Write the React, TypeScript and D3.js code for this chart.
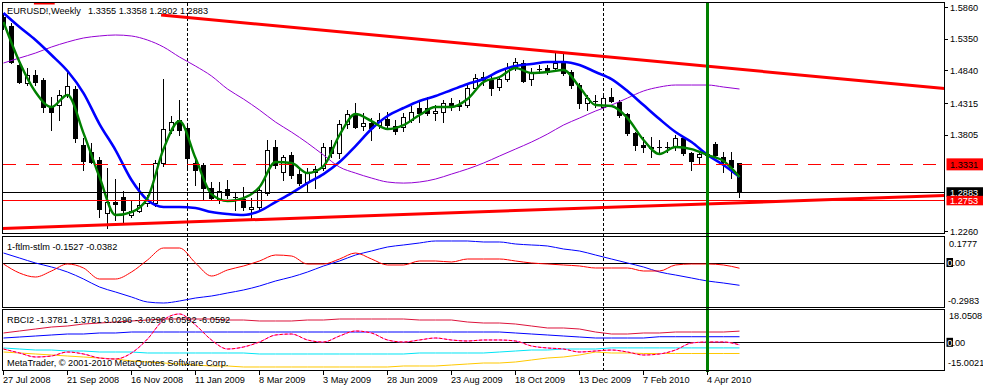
import React from "react";
import * as d3 from "d3";

// ---------- DATA ----------
const DATE_LABELS = ["27 Jul 2008", "21 Sep 2008", "16 Nov 2008", "11 Jan 2009", "8 Mar 2009", "3 May 2009", "28 Jun 2009", "23 Aug 2009", "18 Oct 2009", "13 Dec 2009", "7 Feb 2010", "4 Apr 2010"];
const DATE_LABEL_BARS = [0, 8, 16, 24, 32, 40, 48, 56, 64, 72, 80, 88];

const OPEN = [1.5700, 1.5560, 1.4928, 1.4638, 1.4767, 1.4686, 1.4252, 1.4284, 1.4445, 1.4542,
  1.3641, 1.3529, 1.3400, 1.2548, 1.2725, 1.2805, 1.2516, 1.2580, 1.2709, 1.2709,
  1.3352, 1.3883, 1.4043, 1.3915, 1.3352, 1.3320, 1.2950, 1.2757, 1.2934, 1.2810,
  1.2773, 1.2613, 1.2645, 1.2870, 1.3609, 1.3207, 1.3481, 1.3175, 1.3047, 1.3207,
  1.3272, 1.3609, 1.3513, 1.3979, 1.4124, 1.3947, 1.3995, 1.3963, 1.4059, 1.3947,
  1.3931, 1.4043, 1.4236, 1.4236, 1.4156, 1.4172, 1.4317, 1.4262, 1.4284, 1.4558,
  1.4686, 1.4686, 1.4574, 1.4702, 1.4879, 1.4960, 1.4702, 1.4863, 1.4879, 1.4879,
  1.4960, 1.4815, 1.4606, 1.4317, 1.4349, 1.4252, 1.4413, 1.4333, 1.4140, 1.3834,
  1.3641, 1.3609, 1.3605, 1.3612, 1.3609, 1.3754, 1.3513, 1.3448, 1.3497, 1.3657,
  1.3448, 1.3400, 1.3355];
const HIGH = [1.5760, 1.5603, 1.5008, 1.4879, 1.4847, 1.4719, 1.4413, 1.4526, 1.4847, 1.4590,
  1.3754, 1.3673, 1.3448, 1.3272, 1.3095, 1.2902, 1.2757, 1.3030, 1.2838, 1.3400,
  1.4702, 1.4108, 1.4365, 1.3963, 1.3448, 1.3352, 1.3047, 1.3047, 1.3079, 1.2886,
  1.2966, 1.2789, 1.2966, 1.3722, 1.3722, 1.3481, 1.3529, 1.3288, 1.3272, 1.3304,
  1.3673, 1.3722, 1.4043, 1.4204, 1.4317, 1.4156, 1.4076, 1.4156, 1.4172, 1.4043,
  1.4156, 1.4268, 1.4365, 1.4413, 1.4284, 1.4365, 1.4397, 1.4365, 1.4606, 1.4783,
  1.4815, 1.4767, 1.4735, 1.4960, 1.5040, 1.5008, 1.4879, 1.4928, 1.4928, 1.5120,
  1.5120, 1.4847, 1.4638, 1.4445, 1.4445, 1.4477, 1.4558, 1.4365, 1.4156, 1.3850,
  1.3770, 1.3770, 1.3722, 1.3690, 1.3802, 1.3786, 1.3529, 1.3529, 1.3593, 1.3690,
  1.3529, 1.3529, 1.3358];
const LOW = [1.5510, 1.4960, 1.4638, 1.4606, 1.4606, 1.4172, 1.3883, 1.4043, 1.4413, 1.3690,
  1.3239, 1.3352, 1.2484, 1.2307, 1.2436, 1.2387, 1.2484, 1.2564, 1.2661, 1.2661,
  1.3300, 1.3834, 1.3802, 1.3239, 1.2998, 1.2757, 1.2757, 1.2709, 1.2789, 1.2596,
  1.2596, 1.2452, 1.2613, 1.2838, 1.3272, 1.3079, 1.3111, 1.2998, 1.2886, 1.2950,
  1.3239, 1.3448, 1.3432, 1.3915, 1.3915, 1.3883, 1.3722, 1.3915, 1.3915, 1.3818,
  1.3866, 1.4011, 1.4011, 1.4124, 1.4043, 1.4011, 1.4204, 1.4204, 1.4252, 1.4542,
  1.4606, 1.4445, 1.4526, 1.4670, 1.4847, 1.4654, 1.4606, 1.4799, 1.4783, 1.4847,
  1.4767, 1.4558, 1.4236, 1.4204, 1.4252, 1.4204, 1.4333, 1.4092, 1.3802, 1.3561,
  1.3529, 1.3448, 1.3513, 1.3529, 1.3561, 1.3481, 1.3239, 1.3352, 1.3272, 1.3464,
  1.3207, 1.3111, 1.2802];
const CLOSE = [1.5590, 1.4976, 1.4654, 1.4767, 1.4654, 1.4252, 1.4172, 1.4445, 1.4590, 1.3754,
  1.3384, 1.3368, 1.2613, 1.2725, 1.2700, 1.2596, 1.2580, 1.2677, 1.2757, 1.3352,
  1.3899, 1.4011, 1.3883, 1.3432, 1.3239, 1.2950, 1.2789, 1.2902, 1.2838, 1.2805,
  1.2645, 1.2645, 1.2918, 1.3561, 1.3320, 1.3448, 1.3159, 1.3030, 1.3207, 1.3256,
  1.3609, 1.3513, 1.3979, 1.4140, 1.3931, 1.3995, 1.3915, 1.4043, 1.3963, 1.3866,
  1.4092, 1.4172, 1.4156, 1.4156, 1.4188, 1.4317, 1.4284, 1.4284, 1.4558, 1.4719,
  1.4735, 1.4558, 1.4702, 1.4879, 1.4976, 1.4670, 1.4815, 1.4870, 1.4815, 1.4960,
  1.4799, 1.4606, 1.4317, 1.4397, 1.4355, 1.4397, 1.4349, 1.4124, 1.3834, 1.3641,
  1.3609, 1.3593, 1.3612, 1.3605, 1.3754, 1.3513, 1.3384, 1.3497, 1.3480, 1.3481,
  1.3368, 1.3290, 1.2883];

// indicator values sampled on every second weekly bar (0, 2, 4, ... 92)
const MA_BLUE = [1.5764, 1.5538, 1.5329, 1.5088, 1.4831, 1.4477, 1.3979, 1.3561, 1.3079, 1.2757,
  1.2645, 1.2645, 1.2629, 1.2564, 1.2532, 1.2516, 1.2580, 1.2725, 1.2870, 1.3030,
  1.3175, 1.3368, 1.3625, 1.3899, 1.4108, 1.4236, 1.4349, 1.4429, 1.4526, 1.4622,
  1.4702, 1.4831, 1.4911, 1.4944, 1.4976, 1.4976, 1.4928, 1.4815, 1.4702, 1.4510,
  1.4284, 1.4059, 1.3850, 1.3690, 1.3481, 1.3320, 1.3127];
const MA_GREEN = [1.5619, 1.4976, 1.4493, 1.4252, 1.4445, 1.3834, 1.3127, 1.2516, 1.2564, 1.2789,
  1.3577, 1.4027, 1.3432, 1.2854, 1.2741, 1.2789, 1.2966, 1.3368, 1.3352, 1.3191,
  1.3304, 1.3802, 1.4140, 1.4027, 1.3899, 1.3963, 1.4124, 1.4252, 1.4252, 1.4381,
  1.4654, 1.4735, 1.4879, 1.4799, 1.4815, 1.4847, 1.4574, 1.4284, 1.4268, 1.4075,
  1.3722, 1.3497, 1.3609, 1.3577, 1.3481, 1.3384, 1.3127];
const MA_PURPLE = [1.4960, 1.5040, 1.5120, 1.5217, 1.5297, 1.5362, 1.5394, 1.5410, 1.5394, 1.5329,
  1.5217, 1.5056, 1.4911, 1.4751, 1.4542, 1.4381, 1.4204, 1.4011, 1.3850, 1.3674,
  1.3481, 1.3288, 1.3191, 1.3111, 1.3047, 1.3030, 1.3047, 1.3095, 1.3175, 1.3256,
  1.3352, 1.3465, 1.3577, 1.3690, 1.3818, 1.3963, 1.4075, 1.4188, 1.4284, 1.4397,
  1.4510, 1.4574, 1.4606, 1.4606, 1.4606, 1.4574, 1.4542];

const FTLM_STLM_BLUE = [0.0637, 0.0302, -0.0033, -0.0301, -0.0637, -0.1106, -0.1642, -0.1977, -0.2313, -0.2648,
  -0.2715, -0.2581, -0.2380, -0.2246, -0.2044, -0.1843, -0.1575, -0.1240, -0.0972, -0.0637,
  -0.0234, 0.0101, 0.0503, 0.0771, 0.1040, 0.1174, 0.1308, 0.1442, 0.1442, 0.1442,
  0.1375, 0.1375, 0.1241, 0.1174, 0.1107, 0.0905, 0.0771, 0.0503, 0.0235, -0.0033,
  -0.0301, -0.0637, -0.0838, -0.1039, -0.1240, -0.1374, -0.1527];
const FTLM_STLM_RED = [-0.0100, -0.0704, -0.0972, -0.0569, -0.0100, -0.0368, -0.1106, -0.1106, -0.0637, 0.0168,
  0.0972, 0.0972, -0.0033, -0.0905, -0.0502, -0.0234, 0.0101, 0.0503, 0.0436, -0.0100,
  -0.0100, 0.0235, 0.0637, 0.0235, -0.0167, -0.0167, 0.0101, 0.0101, 0.0034, 0.0235,
  0.0235, 0.0235, 0.0101, -0.0033, -0.0100, -0.0167, -0.0234, -0.0368, -0.0368, -0.0368,
  -0.0569, -0.0569, -0.0167, -0.0100, -0.0100, -0.0167, -0.0382];

const RBCI = [-3.623, -5.790, -7.958, -7.416, -5.249, -6.332, -8.500, -9.041, -5.790, 1.795,
  12.090, 15.342, 9.381, 1.254, -3.623, -2.539, 0.170, 3.963, 4.504, 1.254,
  0.170, 3.421, 6.130, 5.047, 1.254, 0.170, 1.254, 2.337, 1.254, 0.712,
  1.254, 1.254, 0.712, -1.997, -3.081, -3.623, -5.249, -4.707, -4.165, -5.249,
  -6.874, -6.332, -4.165, -0.372, 0.170, 0.170, -1.3781];
const RBCI_UP2 = [5.047, 6.130, 7.214, 8.297, 8.839, 9.923, 10.465, 11.007, 11.549, 12.090,
  12.632, 12.632, 12.632, 12.632, 12.090, 12.090, 11.549, 11.549, 11.549, 12.090,
  12.090, 12.632, 12.632, 12.632, 12.632, 12.632, 12.090, 12.090, 12.090, 11.007,
  10.465, 10.465, 9.923, 8.839, 7.756, 7.756, 7.214, 5.588, 4.504, 4.504,
  5.047, 5.047, 5.588, 5.588, 5.588, 5.588, 6.0592];
const RBCI_UP1 = [2.337, 2.879, 3.421, 3.963, 4.504, 4.504, 5.047, 5.047, 5.588, 5.588,
  5.588, 5.588, 5.588, 5.588, 5.588, 5.588, 5.588, 5.588, 5.588, 5.588,
  5.588, 5.588, 5.588, 5.588, 5.588, 5.588, 5.588, 5.588, 5.588, 5.588,
  5.588, 5.588, 5.047, 4.504, 3.963, 3.421, 2.879, 2.337, 2.337, 2.337,
  2.337, 3.030, 3.030, 3.030, 3.030, 3.030, 3.0296];
const RBCI_DN1 = [-3.081, -3.623, -4.165, -4.165, -4.707, -4.707, -5.249, -5.249, -5.249, -5.790,
  -5.790, -5.790, -5.790, -5.790, -5.790, -5.790, -6.332, -6.332, -6.332, -6.332,
  -6.332, -6.332, -6.332, -6.332, -6.332, -6.332, -5.790, -5.790, -5.790, -5.790,
  -5.790, -5.249, -4.707, -4.165, -4.165, -3.623, -3.623, -3.623, -3.030, -3.030,
  -3.030, -3.030, -3.030, -3.030, -3.030, -3.030, -3.0296];
const RBCI_DN2 = [-5.249, -5.790, -6.332, -6.874, -7.416, -7.958, -8.500, -9.041, -10.125, -10.667,
  -11.209, -11.751, -12.293, -12.834, -12.834, -13.376, -13.376, -13.376, -13.376, -13.376,
  -13.376, -13.376, -13.376, -13.376, -13.376, -12.834, -12.834, -12.834, -12.293, -11.751,
  -11.209, -11.209, -10.667, -9.583, -8.500, -7.958, -6.874, -5.249, -5.790, -5.790,
  -6.059, -6.059, -6.059, -6.059, -6.059, -6.059, -6.0592];

const PRICE_TICKS = [1.5860, 1.5350, 1.4840, 1.4315, 1.3805, 1.2260];
const HLINE_DASHED = 1.3331;
const HLINE_BID = 1.2883;
const HLINE_RED = 1.2753;
const TREND_UPPER = [{ bar: 19.7, price: 1.5731 }, { bar: 70, price: 1.5124 }];
const TREND_LOWER = [{ bar: 0, price: 1.2302 }, { bar: 92, price: 1.2714 }];
const TREND_TOP_SEGMENT = [{ bar: 3.8, price: 1.5924 }, { bar: 6.4, price: 1.5924 }];
const PERIOD_SEPARATOR_BARS = [23, 75];
const VLINE_BAR = 88;
const IND1_TICKS = [0.1777, -0.2983];
const IND2_TICKS = [18.0508, -15.0021];

const FONT = "'Liberation Sans', Arial, sans-serif";
const FS = 9.2;

export default function App() {
  const W = 983, H = 387;
  const L = 2.5, R = 944.5;
  const MAIN_T = 2.5, MAIN_B = 233.5;
  const I1_T = 236.5, I1_B = 307.5;
  const I2_T = 309.5, I2_B = 370.5;

  const xs = d3.scaleLinear().domain([0, 92]).range([3.5, 739.5]);
  const yM = d3.scaleLinear().domain([1.2260, 1.5860]).range([231, 7]);
  const y1 = d3.scaleLinear().domain([-0.2983, 0.1777]).range([307, 236]);
  const y2 = d3.scaleLinear().domain([-15.0021, 18.0508]).range([370, 309]);
  const evenBars = d3.range(0, 93, 2);

  const mkLine = (ys: any, vals: number[], curve: any = d3.curveMonotoneX) =>
    d3.line<number>().x((_, i) => xs(evenBars[i])).y((v) => ys(v)).curve(curve)(vals) || "";

  const trendY = (pts: { bar: number; price: number }[], bar: number) =>
    pts[0].price + ((bar - pts[0].bar) * (pts[1].price - pts[0].price)) / (pts[1].bar - pts[0].bar);
  const rightBar = xs.invert(R);
  const leftBar = xs.invert(L);

  const crisp = (v: number) => Math.round(v) + 0.5;

  const candles = OPEN.map((o, i) => {
    const c = CLOSE[i];
    const cx = xs(i);
    const yo = Math.round(yM(o));
    const yc = Math.round(yM(c));
    const top = Math.min(yo, yc);
    const bot = Math.max(yo, yc);
    const bull = c >= o;
    let body;
    if (bot - top < 1) {
      body = <line x1={cx - 2.5} x2={cx + 2.5} y1={top + 0.5} y2={top + 0.5} stroke="#000" />;
    } else if (bull) {
      body = <rect x={cx - 2} y={top + 0.5} width={4} height={bot - top} fill="#fff" stroke="#000" />;
    } else {
      body = <rect x={cx - 2.5} y={top} width={5} height={bot - top + 1} fill="#000" />;
    }
    return (
      <g key={i}>
        <line x1={cx} x2={cx} y1={Math.round(yM(HIGH[i]))} y2={Math.round(yM(LOW[i])) + 1} stroke="#000" />
        {body}
      </g>
    );
  });

  const f4 = (v: number) => v.toFixed(4);
  const last = (a: number[]) => a[a.length - 1];
  const n = OPEN.length - 1;

  const zeroLabel = (yc: number, key: string) => (
    <g key={key}>
      <rect x={946.5} y={yc - 4.5} width={6.5} height={9} fill="#000" />
      <text x={947.3} y={yc + 3.3} fill="#fff">0</text>
      <text x={952.4} y={yc + 3.3} fill="#000">.00</text>
    </g>
  );

  return (
    <div style={{ position: "absolute", left: 0, top: 0, width: W, height: H, background: "#fff" }}>
      <svg width={W} height={H} style={{ display: "block", fontFamily: FONT, fontSize: FS }}>
        <defs>
          <clipPath id="clipMain"><rect x={L} y={MAIN_T} width={R - L} height={MAIN_B - MAIN_T} /></clipPath>
          <clipPath id="clipI1"><rect x={L} y={I1_T} width={R - L} height={I1_B - I1_T} /></clipPath>
          <clipPath id="clipI2"><rect x={L} y={I2_T} width={R - L} height={I2_B - I2_T} /></clipPath>
        </defs>
        <rect x={0} y={0} width={W} height={H} fill="#fff" />

        {/* period separators */}
        {PERIOD_SEPARATOR_BARS.map((b) => (
          <line key={b} x1={xs(b)} x2={xs(b)} y1={MAIN_T} y2={I2_B} stroke="#000" strokeDasharray="3,2" shapeRendering="crispEdges" />
        ))}

        {/* MAIN PANEL */}
        <g clipPath="url(#clipMain)">
          <g shapeRendering="crispEdges">{candles}</g>
          <path d={mkLine(yM, MA_PURPLE)} fill="none" stroke="#9400d3" strokeWidth={1} />
          <path d={mkLine(yM, MA_BLUE)} fill="none" stroke="#0000ff" strokeWidth={2.6} />
          <path d={mkLine(yM, MA_GREEN)} fill="none" stroke="#008000" strokeWidth={2.4} />
          {/* objects */}
          <line x1={L} x2={R} y1={crisp(yM(HLINE_DASHED))} y2={crisp(yM(HLINE_DASHED))} stroke="#ff0000" strokeDasharray="13,10" shapeRendering="crispEdges" />
          <line x1={L} x2={R} y1={crisp(yM(HLINE_BID))} y2={crisp(yM(HLINE_BID))} stroke="#000" shapeRendering="crispEdges" />
          <line x1={L} x2={R} y1={crisp(yM(HLINE_RED))} y2={crisp(yM(HLINE_RED))} stroke="#ff0000" shapeRendering="crispEdges" />
          <line x1={xs(TREND_UPPER[0].bar)} y1={yM(TREND_UPPER[0].price)} x2={R} y2={yM(trendY(TREND_UPPER, rightBar))} stroke="#ff0000" strokeWidth={3} />
          <line x1={L} y1={yM(trendY(TREND_LOWER, leftBar))} x2={R} y2={yM(trendY(TREND_LOWER, rightBar))} stroke="#ff0000" strokeWidth={3} />
          <line x1={xs(TREND_TOP_SEGMENT[0].bar)} y1={yM(TREND_TOP_SEGMENT[0].price)} x2={xs(TREND_TOP_SEGMENT[1].bar)} y2={yM(TREND_TOP_SEGMENT[1].price)} stroke="#ff0000" strokeWidth={3} />
        </g>

        {/* IND 1 */}
        <g clipPath="url(#clipI1)">
          <line x1={L} x2={R} y1={crisp(y1(0))} y2={crisp(y1(0))} stroke="#000" shapeRendering="crispEdges" />
          <path d={mkLine(y1, FTLM_STLM_BLUE)} fill="none" stroke="#0000ff" strokeWidth={1} />
          <path d={mkLine(y1, FTLM_STLM_RED)} fill="none" stroke="#ff0000" strokeWidth={1} />
        </g>

        {/* IND 2 */}
        <g clipPath="url(#clipI2)">
          <line x1={L} x2={R} y1={crisp(y2(0))} y2={crisp(y2(0))} stroke="#000" shapeRendering="crispEdges" />
          <path d={mkLine(y2, RBCI_UP2, d3.curveLinear)} fill="none" stroke="#dc143c" strokeWidth={1} />
          <path d={mkLine(y2, RBCI_UP1, d3.curveLinear)} fill="none" stroke="#0000ff" strokeWidth={1} />
          <path d={mkLine(y2, RBCI_DN1, d3.curveLinear)} fill="none" stroke="#00e5f5" strokeWidth={1} />
          <path d={mkLine(y2, RBCI_DN2, d3.curveLinear)} fill="none" stroke="#ffc800" strokeWidth={1} />
          <path d={mkLine(y2, RBCI)} fill="none" stroke="#ff44ff" strokeWidth={1} />
          <path d={mkLine(y2, RBCI)} fill="none" stroke="#ff0000" strokeWidth={1} strokeDasharray="3,2" />
        </g>

        {/* green vertical line */}
        <line x1={xs(VLINE_BAR) - 0.5} x2={xs(VLINE_BAR) - 0.5} y1={MAIN_T} y2={I2_B + 1} stroke="#008000" strokeWidth={3} shapeRendering="crispEdges" />

        {/* panel borders */}
        <g fill="none" stroke="#000" shapeRendering="crispEdges">
          <rect x={L} y={MAIN_T} width={R - L} height={MAIN_B - MAIN_T} />
          <rect x={L} y={I1_T} width={R - L} height={I1_B - I1_T} />
          <rect x={L} y={I2_T} width={R - L} height={I2_B - I2_T} />
        </g>

        {/* right price axis */}
        <g shapeRendering="crispEdges">
          {PRICE_TICKS.map((p) => (
            <line key={p} x1={R} x2={R + 3} y1={crisp(yM(p))} y2={crisp(yM(p))} stroke="#000" />
          ))}
        </g>
        {PRICE_TICKS.map((p) => (
          <text key={p} x={950} y={yM(p) + 3.5} fill="#000">{p.toFixed(4)}</text>
        ))}
        <rect x={946.5} y={yM(HLINE_DASHED) - 6} width={37} height={12} fill="#ff0000" />
        <text x={950} y={yM(HLINE_DASHED) + 3.5} fill="#000">{HLINE_DASHED.toFixed(4)}</text>
        <rect x={946.5} y={yM(HLINE_BID) - 5} width={37} height={9.5} fill="#000" />
        <text x={950} y={yM(HLINE_BID) + 3.3} fill="#fff">{HLINE_BID.toFixed(4)}</text>
        <rect x={946.5} y={yM(HLINE_RED) - 4.5} width={37} height={9.5} fill="#ff0000" />
        <text x={950} y={yM(HLINE_RED) + 3.5} fill="#fff">{HLINE_RED.toFixed(4)}</text>

        {/* indicator axes */}
        <text x={949} y={I1_T + 10.5} fill="#000">{IND1_TICKS[0].toFixed(4)}</text>
        <text x={948} y={I1_B - 3.5} fill="#000">{IND1_TICKS[1].toFixed(4)}</text>
        {zeroLabel(y1(0), "z1")}
        <text x={949} y={I2_T + 9.5} fill="#000">{IND2_TICKS[0].toFixed(4)}</text>
        <text x={948} y={I2_B - 4.5} fill="#000">{IND2_TICKS[1].toFixed(4)}</text>
        {zeroLabel(y2(0), "z2")}

        {/* bottom time axis */}
        {DATE_LABEL_BARS.map((b, i) => (
          <g key={b}>
            <line x1={xs(b)} x2={xs(b)} y1={I2_B} y2={I2_B + 4} stroke="#000" shapeRendering="crispEdges" />
            <text x={xs(b) - 0.5} y={383} fill="#000">{DATE_LABELS[i]}</text>
          </g>
        ))}

        {/* titles */}
        <text x={7} y={14} fill="#000">EURUSD!,Weekly</text>
        <text x={88} y={14} fill="#000">{`${f4(OPEN[n])} ${f4(HIGH[n])} ${f4(LOW[n])} ${f4(CLOSE[n])}`}</text>
        <text x={7} y={250} fill="#000">{`1-ftlm-stlm ${f4(last(FTLM_STLM_BLUE))} ${f4(last(FTLM_STLM_RED))}`}</text>
        <text x={7} y={322.5} fill="#000">{`RBCI2 ${f4(last(RBCI))} ${f4(last(RBCI))} ${f4(last(RBCI_UP1))} ${f4(last(RBCI_DN1))} ${f4(last(RBCI_UP2))} ${f4(last(RBCI_DN2))}`}</text>
        <text x={7} y={365.5} fill="#000">MetaTrader, © 2001-2010 MetaQuotes Software Corp.</text>
      </svg>
    </div>
  );
}
